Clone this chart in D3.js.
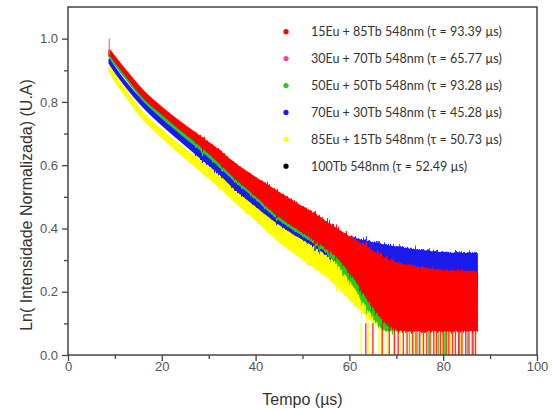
<!DOCTYPE html>
<html><head><meta charset="utf-8">
<script src="https://cdn.jsdelivr.net/npm/d3@7"></script>
<style>
html,body{margin:0;padding:0;background:#fff;}
svg{display:block;}
</style></head>
<body>
<svg id="chart" width="553" height="409"></svg>
<script>
// ---------- data ----------
const time = [8.8, 10, 12, 16, 20, 24, 28, 32, 36, 40, 44, 48, 52, 56, 60, 64, 68, 72, 76, 80, 84, 87.2];

const seriesNames = [
  "15Eu + 85Tb 548nm (τ = 93.39 µs)",
  "30Eu + 70Tb 548nm (τ = 65.77 µs)",
  "50Eu + 50Tb 548nm (τ = 93.28 µs)",
  "70Eu + 30Tb 548nm (τ = 45.28 µs)",
  "85Eu + 15Tb 548nm (τ = 50.73 µs)",
  "100Tb 548nm (τ = 52.49 µs)"
];
const seriesColors = ["#ff0000", "#ff3fa6", "#22cc22", "#1a1aee", "#ffff00", "#000000"];

// upper / lower envelopes of each noisy decay curve
const red_hi   = [0.965,0.942,0.905,0.835,0.782,0.735,0.692,0.648,0.600,0.560,0.522,0.485,0.448,0.410,0.372,0.335,0.300,0.282,0.272,0.265,0.262,0.262];
const red_lo   = [0.952,0.928,0.890,0.815,0.762,0.712,0.665,0.612,0.555,0.505,0.450,0.408,0.370,0.330,0.265,0.180,0.100,0.079,0.079,0.079,0.079,0.079];
const pink_hi  = [0.962,0.938,0.901,0.831,0.778,0.731,0.688,0.645,0.598,0.558,0.520,0.484,0.447,0.410,0.372,0.334,0.298,0.278,0.266,0.258,0.256,0.256];
const pink_lo  = [0.955,0.932,0.894,0.820,0.766,0.717,0.670,0.618,0.560,0.510,0.455,0.413,0.375,0.335,0.270,0.185,0.105,0.079,0.079,0.079,0.079,0.079];
const green_hi = [0.955,0.930,0.893,0.822,0.768,0.720,0.676,0.632,0.586,0.545,0.505,0.468,0.432,0.395,0.355,0.318,0.285,0.265,0.252,0.245,0.242,0.242];
const green_lo = [0.943,0.918,0.880,0.806,0.750,0.700,0.652,0.600,0.545,0.495,0.440,0.398,0.360,0.315,0.240,0.150,0.079,0.079,0.079,0.079,0.079,0.079];
const blue_hi  = [0.935,0.908,0.868,0.800,0.745,0.697,0.652,0.607,0.560,0.520,0.480,0.445,0.415,0.392,0.372,0.357,0.345,0.335,0.328,0.322,0.320,0.320];
const blue_lo  = [0.922,0.895,0.855,0.785,0.728,0.677,0.626,0.577,0.520,0.472,0.425,0.385,0.350,0.310,0.270,0.240,0.215,0.195,0.180,0.170,0.165,0.165];
const yellow_hi= [0.910,0.882,0.842,0.765,0.710,0.660,0.615,0.570,0.525,0.485,0.440,0.400,0.362,0.325,0.290,0.255,0.225,0.205,0.195,0.190,0.188,0.188];
const yellow_lo= [0.896,0.866,0.824,0.745,0.688,0.635,0.585,0.535,0.478,0.428,0.372,0.325,0.285,0.238,0.180,0.120,0.079,0.079,0.079,0.079,0.079,0.079];
const black_hi = [0.952,0.927,0.890,0.819,0.765,0.717,0.673,0.629,0.583,0.542,0.502,0.465,0.429,0.392,0.352,0.315,0.282,0.262,0.250,0.243,0.240,0.240];
const black_lo = [0.946,0.921,0.883,0.809,0.753,0.703,0.655,0.603,0.548,0.498,0.443,0.401,0.363,0.318,0.243,0.153,0.082,0.079,0.079,0.079,0.079,0.079];

// times where a trace drops to zero in the tail
const red_drops    = [63.5,65,67,68.5,69.6,70.4,71.5,72.3,73.5,74.2,75,75.8,76.5,77.2,78,78.6,79.4,80,80.6,81.2,82,82.6,83.3,84,84.8,85.5,86.2,86.9];
const green_drops  = [72.8,74.6,76.9,79,80.3,80.8,83.5,85.2,86.5];
const yellow_drops = [62.5,64,66.3,66.8,68,69.4,71,72,73.2,74,75.5,77.5,78.3,79.8,81.5,83.8];
// initial spike of the first trace
const red_spike = [8.8, 0.95, 1.0];

const xTicks = [0,20,40,60,80,100];
const xMinor = [10,30,50,70,90];
const yTicks = [0,0.2,0.4,0.6,0.8,1.0];
const yMinor = [0.1,0.3,0.5,0.7,0.9];

// ---------- drawing ----------
const svg = d3.select("#chart");
const W = 553, H = 409;
const L = 68, R = 537, T = 7, B = 355;
const x = d3.scaleLinear().domain([0,100]).range([L,R]);
const y = d3.scaleLinear().domain([0,1.1]).range([B,T]);
const tEnd = time[time.length-1];

const defs = svg.append("defs");
defs.append("clipPath").attr("id","clip")
  .append("rect").attr("x",L).attr("y",T).attr("width",x(tEnd)+1-L).attr("height",B-T);
defs.append("clipPath").attr("id","clipMid")
  .append("rect").attr("x",x(27)).attr("y",T).attr("width",x(tEnd)+1-x(27)).attr("height",B-T);
defs.append("clipPath").attr("id","clipTail")
  .append("rect").attr("x",x(50)).attr("y",T).attr("width",x(tEnd)+1-x(50)).attr("height",B-T);

function roughFilter(id, scale, seed, freq){
  const f = defs.append("filter").attr("id",id)
    .attr("filterUnits","userSpaceOnUse").attr("x",0).attr("y",0).attr("width",W).attr("height",H);
  f.append("feTurbulence").attr("type","fractalNoise").attr("baseFrequency",freq)
    .attr("numOctaves",2).attr("seed",seed).attr("result","n");
  f.append("feDisplacementMap").attr("in","SourceGraphic").attr("in2","n")
    .attr("scale",scale).attr("xChannelSelector","R").attr("yChannelSelector","G");
}
roughFilter("roughA", 8, 3, "0.9 0.035");
roughFilter("roughB", 16, 11, "1.2 0.03");

const plot = svg.append("g").attr("clip-path","url(#clip)");

const bands = [
  {c:seriesColors[5], hi:black_hi,  lo:black_lo},
  {c:seriesColors[4], hi:yellow_hi, lo:yellow_lo, drops:yellow_drops},
  {c:seriesColors[3], hi:blue_hi,   lo:blue_lo},
  {c:seriesColors[2], hi:green_hi,  lo:green_lo, drops:green_drops},
  {c:seriesColors[1], hi:pink_hi,   lo:pink_lo},
  {c:seriesColors[0], hi:red_hi,    lo:red_lo, drops:red_drops}
];

const area = d3.area()
  .x(d => x(d.t)).y0(d => y(d.lo)).y1(d => y(d.hi))
  .curve(d3.curveMonotoneX);

bands.forEach((b,k) => {
  const pts = time.map((t,i) => ({t, hi:b.hi[i], lo:b.lo[i]}));
  const g = plot.append("g");
  g.append("path").datum(pts)
    .attr("d", area)
    .attr("fill", b.c).attr("stroke", b.c)
    .attr("stroke-width", 1.6).attr("stroke-linejoin","round");
  g.append("g").attr("clip-path","url(#clipMid)")
    .append("path").datum(pts).attr("d", area)
    .attr("fill", b.c).attr("stroke", b.c).attr("stroke-width", 1)
    .attr("filter","url(#roughA)");
  g.append("g").attr("clip-path","url(#clipTail)")
    .append("path").datum(pts).attr("d", area)
    .attr("fill", b.c).attr("stroke", b.c).attr("stroke-width", 1)
    .attr("opacity", 0.85)
    .attr("filter","url(#roughB)");
  if (b.drops) {
    g.selectAll(null).data(b.drops).enter().append("line")
      .attr("x1", d => x(d)).attr("x2", d => x(d))
      .attr("y1", y(0)).attr("y2", y(0.1))
      .attr("stroke", b.c).attr("stroke-width", 1.4).attr("opacity", 0.8);
  }
});

plot.append("line")
  .attr("x1", x(red_spike[0])).attr("x2", x(red_spike[0]))
  .attr("y1", y(red_spike[1])).attr("y2", y(red_spike[2]))
  .attr("stroke", "#ff6a6a").attr("stroke-width", 1.2);

// frame
svg.append("rect").attr("x",L).attr("y",T).attr("width",R-L).attr("height",B-T)
  .attr("fill","none").attr("stroke","#444").attr("stroke-width",1.5);

// axes
const axisColor = "#444";
const xAxis = svg.append("g").attr("transform",`translate(0,${B})`)
  .call(d3.axisBottom(x).tickValues(xTicks).tickSize(6).tickPadding(1).tickFormat(d3.format("d")));
const xAxisMinor = svg.append("g").attr("transform",`translate(0,${B})`)
  .call(d3.axisBottom(x).tickValues(xMinor).tickSize(4).tickFormat(""));
const yAxis = svg.append("g").attr("transform",`translate(${L},0)`)
  .call(d3.axisLeft(y).tickValues(yTicks).tickSize(6).tickPadding(4).tickFormat(d3.format(".1f")));
const yAxisMinor = svg.append("g").attr("transform",`translate(${L},0)`)
  .call(d3.axisLeft(y).tickValues(yMinor).tickSize(4).tickFormat(""));

[xAxis,xAxisMinor,yAxis,yAxisMinor].forEach(g => {
  g.select(".domain").remove();
  g.selectAll(".tick line").attr("stroke",axisColor).attr("stroke-width",1.3);
  g.selectAll(".tick text").attr("fill","#555")
    .style("font-family","'Liberation Sans', Arial, sans-serif").style("font-size","13px");
});

// axis titles
svg.append("text").attr("x",(L+R)/2).attr("y",405).attr("text-anchor","middle")
  .style("font-family","'Liberation Sans', Arial, sans-serif").style("font-size","16px").attr("fill","#333")
  .text("Tempo (µs)");
svg.append("text").attr("transform","translate(32,205) rotate(-90)").attr("text-anchor","middle")
  .style("font-family","'Liberation Sans', Arial, sans-serif").style("font-size","16px").attr("fill","#333")
  .text("Ln( Intensidade Normalizada) (U.A)");

// legend
const leg = svg.append("g");
seriesNames.forEach((n,i) => {
  const yy = 31.7 + i*26.9;
  leg.append("circle").attr("cx",286).attr("cy",yy).attr("r",2.6).attr("fill",seriesColors[i]);
  leg.append("text").attr("x",311).attr("y",yy+4.5)
    .style("font-family","Lato, 'Open Sans', sans-serif").style("font-size","12.5px").attr("fill","#333")
    .text(n);
});
</script>
</body></html>
